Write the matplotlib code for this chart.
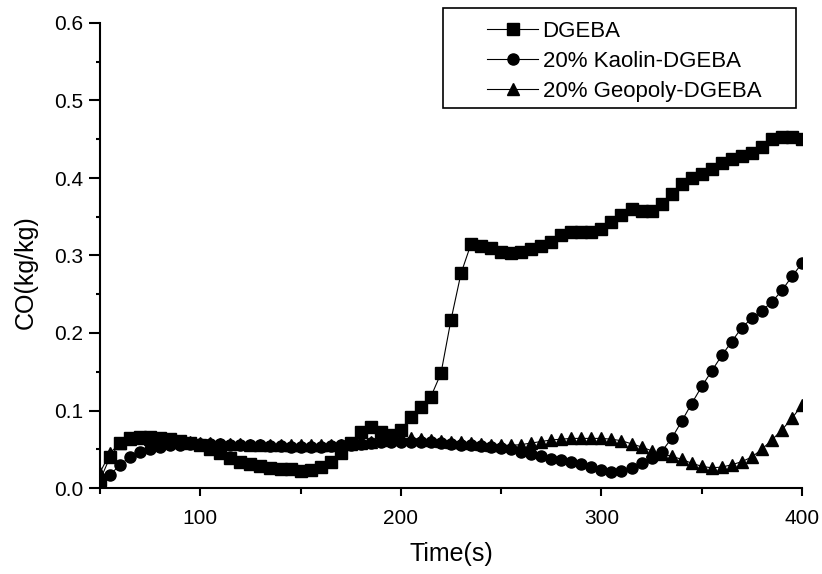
import matplotlib.pyplot as plt
from matplotlib.patches import Rectangle
from matplotlib.ticker import MultipleLocator

plt.rcParams['font.family'] = ['Liberation Sans', 'DejaVu Sans']

time = list(range(50, 401, 5))

dgeba = [0.010, 0.040, 0.058, 0.065, 0.066, 0.066, 0.065, 0.063, 0.061, 0.058,
         0.055, 0.050, 0.045, 0.039, 0.034, 0.031, 0.028, 0.026, 0.025, 0.024,
         0.022, 0.023, 0.027, 0.034, 0.045, 0.058, 0.072, 0.079, 0.072, 0.068,
         0.075, 0.092, 0.105, 0.118, 0.148, 0.217, 0.277, 0.315, 0.312, 0.310,
         0.305, 0.303, 0.305, 0.308, 0.312, 0.318, 0.326, 0.330, 0.330, 0.330,
         0.334, 0.343, 0.352, 0.360, 0.358, 0.358, 0.366, 0.380, 0.392, 0.400,
         0.405, 0.412, 0.420, 0.425, 0.428, 0.432, 0.440, 0.450, 0.453, 0.453,
         0.450]

kaolin = [0.005, 0.017, 0.030, 0.040, 0.047, 0.050, 0.053, 0.055, 0.056, 0.057,
          0.057, 0.057, 0.057, 0.056, 0.056, 0.055, 0.055, 0.054, 0.054, 0.053,
          0.053, 0.053, 0.053, 0.054, 0.055, 0.056, 0.057, 0.058, 0.059, 0.060,
          0.060, 0.060, 0.060, 0.059, 0.058, 0.057, 0.056, 0.055, 0.054, 0.053,
          0.052, 0.050, 0.047, 0.044, 0.041, 0.038, 0.036, 0.034, 0.031, 0.027,
          0.023, 0.021, 0.022, 0.026, 0.032, 0.039, 0.047, 0.064, 0.086, 0.109,
          0.131, 0.151, 0.171, 0.189, 0.207, 0.219, 0.229, 0.240, 0.255, 0.273,
          0.290]

geopoly = [0.020, 0.045, 0.058, 0.063, 0.064, 0.063, 0.062, 0.061, 0.060, 0.059,
           0.058, 0.058, 0.057, 0.057, 0.057, 0.056, 0.056, 0.056, 0.055, 0.055,
           0.055, 0.055, 0.055, 0.055, 0.056, 0.057, 0.058, 0.060, 0.062, 0.063,
           0.064, 0.064, 0.063, 0.062, 0.061, 0.060, 0.059, 0.058, 0.057, 0.056,
           0.055, 0.055, 0.056, 0.058, 0.060, 0.062, 0.063, 0.064, 0.064, 0.064,
           0.064, 0.063, 0.061, 0.057, 0.053, 0.048, 0.044, 0.041, 0.037, 0.032,
           0.028, 0.026, 0.027, 0.030, 0.034, 0.040, 0.050, 0.062, 0.075, 0.090,
           0.107]

W, H = 822, 574
fig = plt.figure(figsize=(W / 100, H / 100), dpi=100)
ax = fig.add_axes([100 / W, 1 - 488 / H, 702 / W, 465 / H])

ax.plot(time, dgeba, color="k", lw=0.8, marker="s", ms=8, label="DGEBA")
ax.plot(time, kaolin, color="k", lw=0.8, marker="o", ms=8, label="20% Kaolin-DGEBA")
ax.plot(time, geopoly, color="k", lw=0.8, marker="^", ms=9, label="20% Geopoly-DGEBA")

ax.set_xlim(50, 400)
ax.set_ylim(0.0, 0.6)
ax.xaxis.set_major_locator(MultipleLocator(100))
ax.xaxis.set_minor_locator(MultipleLocator(50))
ax.yaxis.set_major_locator(MultipleLocator(0.1))
ax.yaxis.set_minor_locator(MultipleLocator(0.05))
ax.yaxis.set_major_formatter(plt.FormatStrFormatter("%.1f"))

for side in ["top", "right"]:
    ax.spines[side].set_visible(False)
for side in ["left", "bottom"]:
    ax.spines[side].set_linewidth(1.5)
ax.tick_params(which="both", direction="out", width=1.5, labelsize=15)
ax.tick_params(axis="x", which="major", length=6, pad=9)
ax.tick_params(axis="x", which="minor", length=4)
ax.tick_params(axis="y", which="major", length=8, pad=4)
ax.tick_params(axis="y", which="minor", length=3)

ax.set_xlabel("Time(s)", fontsize=18, labelpad=10)
ax.set_ylabel("CO(kg/kg)", fontsize=18, labelpad=12)
ax.yaxis.label.set_y(0.4645)

# legend box drawn separately so the left margin can be wider than the padding
fig.patches.append(Rectangle((443 / W, 1 - 108 / H), 353 / W, 100 / H,
                             transform=fig.transFigure, fill=False,
                             edgecolor="k", lw=1.2))
leg = ax.legend(loc="upper left", bbox_to_anchor=(487 / W, 1 - 21 / H),
                bbox_transform=fig.transFigure, borderaxespad=0, borderpad=0,
                fontsize=16, frameon=False, handlelength=2.3,
                labelspacing=0.4, handletextpad=0.2)

plt.savefig("out.png", dpi=100)
